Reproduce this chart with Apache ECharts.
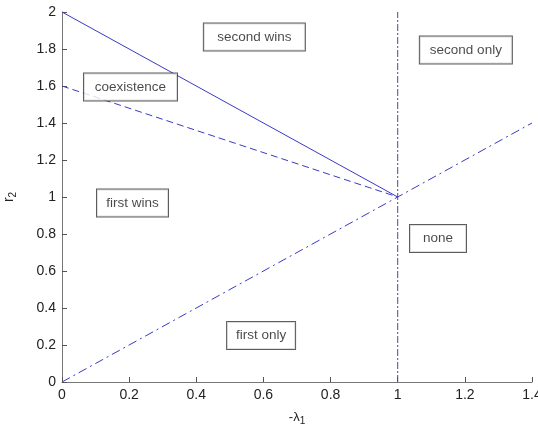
<!DOCTYPE html>
<html>
<head>
<meta charset="utf-8">
<script src="https://cdn.jsdelivr.net/npm/echarts@6/dist/echarts.min.js"></script>
<style>html,body{margin:0;padding:0;background:#fff;}#c{width:538px;height:427px;}</style>
</head>
<body>
<div id="c"></div>
<script>
// Data
var solidLine = [[0, 2], [1, 1]];
var dashedLine = [[0, 1.6], [1, 1]];
var diagLine = [[0, 0], [1.4, 1.4]];
var vertLine = [[1, 0], [1, 2]];
var regionNames = ['second wins', 'second only', 'coexistence', 'first wins', 'none', 'first only'];
var regionX = [0.573, 1.203, 0.204, 0.210, 1.120, 0.593];
var regionY = [1.865, 1.795, 1.595, 0.968, 0.776, 0.251];
var xTicks = ['0', '0.2', '0.4', '0.6', '0.8', '1', '1.2', '1.4'];

var boxW = [103, 94, 95, 73, 58, 70];
var lineBlue = '#3a3ac4';
var font = 'Liberation Sans, Arial, sans-serif';

var chart = echarts.init(document.getElementById('c'));
var boxData = regionNames.map(function (n, i) {
  return {
    value: [regionX[i], regionY[i]],
    label: {
      show: true, position: 'inside', formatter: n,
      width: boxW[i] - 2, height: 27, align: 'center', verticalAlign: 'middle', lineHeight: 27,
      backgroundColor: '#fff', borderColor: '#333', borderWidth: 1,
      color: '#1a1a1a', fontSize: 13.5, fontFamily: font
    }
  };
});
function lineSeries(data, type, color) {
  return { type: 'line', data: data, symbol: 'none', silent: true,
    lineStyle: { color: color, width: 1, type: type }, z: 2 };
}
chart.setOption({
  animation: false,
  backgroundColor: '#fff',
  grid: { left: 62, right: 6, top: 12, bottom: 45, containLabel: false, outerBoundsMode: 'none' },
  xAxis: {
    type: 'value', min: 0, max: 1.4, interval: 0.2,
    name: '{a|-λ}{b|1}', nameLocation: 'middle', nameGap: 26,
    nameTextStyle: { rich: {
      a: { color: '#222', fontSize: 13, fontFamily: font },
      b: { color: '#222', fontSize: 10, fontFamily: font, padding: [8, 0, 0, 0] } } },
    axisLine: { lineStyle: { color: '#777' } },
    axisTick: { inside: true, length: 5, lineStyle: { color: '#555' } },
    axisLabel: { color: '#222', fontSize: 14, fontFamily: font, margin: 6,
      formatter: function (v) { return xTicks[Math.round(v / 0.2)]; } },
    splitLine: { show: false }
  },
  yAxis: {
    type: 'value', min: 0, max: 2, interval: 0.2,
    name: '{a|r}{b|2}', nameLocation: 'middle', nameGap: 44,
    nameTextStyle: { rich: {
      a: { color: '#222', fontSize: 14, fontFamily: font },
      b: { color: '#222', fontSize: 10, fontFamily: font, padding: [8, 0, 0, 0] } } },
    axisLine: { show: true, lineStyle: { color: '#777' } },
    axisTick: { show: true, inside: true, length: 5, lineStyle: { color: '#555' } },
    axisLabel: { color: '#222', fontSize: 14, fontFamily: font, margin: 6 },
    splitLine: { show: false }
  },
  series: [
    lineSeries(solidLine, 'solid', lineBlue),
    lineSeries(dashedLine, [7, 4], lineBlue),
    lineSeries(diagLine, [9, 4, 2, 4], lineBlue),
    lineSeries(vertLine, [7, 2, 2, 2], '#5a4a80'),
    { type: 'scatter', data: boxData, symbolSize: 1, itemStyle: { color: 'rgba(0,0,0,0)' }, z: 5, silent: true }
  ]
});
</script>
</body>
</html>
